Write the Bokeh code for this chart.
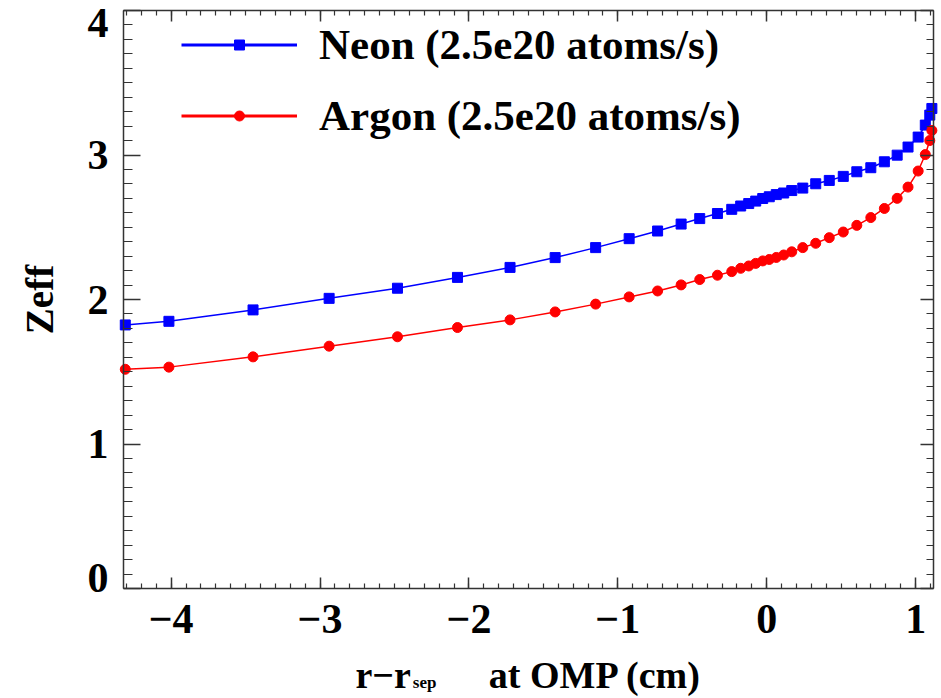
import numpy as np
from bokeh.plotting import figure
from bokeh.models import (Range1d, LinearAxis, FixedTicker, CustomJSTickFormatter,
                          Label, Legend, LegendItem)
from bokeh.embed import file_html
from bokeh.resources import INLINE

# r - r_sep at the outer midplane (cm), common grid of both runs
r_omp = [-4.308, -4.015, -3.450, -2.939, -2.480, -2.077, -1.724, -1.421, -1.149, -0.924,
         -0.733, -0.575, -0.450, -0.331, -0.235, -0.175, -0.121, -0.074, -0.027, 0.017,
         0.064, 0.114, 0.168, 0.242, 0.329, 0.420, 0.514, 0.605, 0.699, 0.790,
         0.876, 0.949, 1.017, 1.065, 1.095, 1.109]

# effective charge profiles for the two seeding species
zeff_neon = [1.824, 1.849, 1.928, 2.008, 2.078, 2.153, 2.222, 2.290, 2.359, 2.421,
             2.474, 2.522, 2.560, 2.595, 2.624, 2.647, 2.664, 2.681, 2.699, 2.711,
             2.726, 2.737, 2.754, 2.771, 2.801, 2.824, 2.852, 2.884, 2.912, 2.953,
             2.999, 3.055, 3.124, 3.207, 3.276, 3.322]
zeff_argon = [1.517, 1.532, 1.603, 1.677, 1.742, 1.806, 1.859, 1.914, 1.968, 2.018,
              2.059, 2.101, 2.138, 2.168, 2.193, 2.216, 2.232, 2.250, 2.267, 2.277,
              2.291, 2.308, 2.330, 2.359, 2.389, 2.428, 2.467, 2.513, 2.567, 2.630,
              2.700, 2.778, 2.889, 3.003, 3.100, 3.170]

series_names = ["Neon (2.5e20 atoms/s)", "Argon (2.5e20 atoms/s)"]

x_ticks = [-4, -3, -2, -1, 0, 1]
y_ticks = [0, 1, 2, 3, 4]
x_label_parts = ["r\u2212r", "sep", "at OMP (cm)"]
y_label = "Zeff"

FONT = "Liberation Serif"
AXIS_COLOR = "#333333"
BLUE = "#0000ff"
RED = "#ff0000"

# axis extents of the boxed plot area
X_START, X_END = -4.32, 1.12
Y_START, Y_END = 0, 4

# canvas size and the pixel box the axes enclose; the frame fills the whole canvas
W, H = 941, 698
BOX_L, BOX_R, BOX_T, BOX_B = 123, 933, 10, 588
SX = (BOX_R - BOX_L) / (X_END - X_START)
SY = (BOX_B - BOX_T) / (Y_END - Y_START)

p = figure(width=W, height=H, output_backend="svg", toolbar_location=None,
           x_range=Range1d(X_START - BOX_L / SX, X_END + (W - BOX_R) / SX),
           y_range=Range1d(Y_START - (H - BOX_B) / SY, Y_END + BOX_T / SY),
           x_axis_location=None, y_axis_location=None,
           min_border=0, min_border_left=0, min_border_right=0,
           min_border_top=0, min_border_bottom=0,
           background_fill_color="white", border_fill_color="white")
p.grid.visible = False
p.outline_line_color = None

x_minor = [float(v) for v in np.round(np.arange(-4.3, 1.15, 0.1), 2)]
y_minor = [float(v) for v in np.round(np.arange(0.0, 4.01, 0.1), 2)]


def make_axis(side, loc, ticks, minor, bounds, major_len, minor_len, show_labels):
    ax = LinearAxis(fixed_location=loc, bounds=bounds)
    ax.ticker = FixedTicker(ticks=ticks, minor_ticks=minor)
    ax.major_tick_in = major_len
    ax.major_tick_out = 0
    ax.minor_tick_in = minor_len
    ax.minor_tick_out = 0
    ax.axis_line_color = AXIS_COLOR
    ax.axis_line_width = 1.5
    ax.major_tick_line_color = AXIS_COLOR
    ax.major_tick_line_width = 1.5
    ax.minor_tick_line_color = AXIS_COLOR
    ax.minor_tick_line_width = 1.2
    ax.major_label_text_font = FONT
    ax.major_label_text_font_style = "bold"
    ax.major_label_text_font_size = "42px"
    ax.major_label_text_color = "black"
    if not show_labels:
        ax.formatter = CustomJSTickFormatter(code="return '';")
        ax.major_label_text_font_size = "0px"
        ax.major_label_standoff = 0
    p.add_layout(ax, side)
    return ax


# bottom axis with long minus signs
xb = make_axis("below", Y_START, x_ticks, x_minor, (X_START, X_END), 11, 5, True)
xb.formatter = CustomJSTickFormatter(
    code="return tick < 0 ? '\u2212' + Math.abs(tick).toFixed(0) : tick.toFixed(0);")
xb.major_label_standoff = 16

# left axis; its end labels are drawn separately, pulled inside the box span
yl = make_axis("left", X_START, y_ticks, y_minor, (Y_START, Y_END), 17, 9, True)
yl.formatter = CustomJSTickFormatter(
    code="return (tick <= 0 || tick >= 4) ? '' : tick.toFixed(0);")
yl.major_label_standoff = 15
yl.axis_label = y_label
yl.axis_label_text_font = FONT
yl.axis_label_text_font_style = "bold"
yl.axis_label_text_font_size = "39px"
yl.axis_label_text_color = "black"
yl.axis_label_standoff = 24

# mirrored axes closing the box
make_axis("above", Y_END, x_ticks, x_minor, (X_START, X_END), 11, 5, False)
make_axis("right", X_END, y_ticks, y_minor, (Y_START, Y_END), 13, 7, False)

text_style = dict(text_font=FONT, text_font_style="bold", text_color="black")

for val, dy in ((y_ticks[-1], -12), (y_ticks[0], 11)):
    p.add_layout(Label(x=X_START, y=val, x_offset=-15, y_offset=dy, text=str(val),
                       text_align="right", text_baseline="middle",
                       text_font_size="42px", **text_style))

# x axis title with a subscript
XT_X = -2.39
p.add_layout(Label(x=XT_X, y=Y_START, y_offset=-86, text=x_label_parts[0],
                   text_align="right", text_baseline="alphabetic",
                   text_font_size="38px", **text_style))
p.add_layout(Label(x=XT_X, y=Y_START, x_offset=2, y_offset=-94, text=x_label_parts[1],
                   text_align="left", text_baseline="alphabetic",
                   text_font_size="17px", **text_style))
p.add_layout(Label(x=XT_X, y=Y_START, x_offset=78, y_offset=-86, text=x_label_parts[2],
                   text_align="left", text_baseline="alphabetic",
                   text_font_size="38px", **text_style))

# data curves
p.line(r_omp, zeff_neon, line_color=BLUE, line_width=1.5)
p.scatter(r_omp, zeff_neon, marker="square", size=10, fill_color=BLUE, line_color=BLUE)
p.line(r_omp, zeff_argon, line_color=RED, line_width=1.5)
p.scatter(r_omp, zeff_argon, marker="circle", size=10, fill_color=RED, line_color=RED)

# legend samples with heavier lines (a single undefined point keeps them off the axes)
blank = [float("nan")]
ln_ne = p.line(blank, blank, line_color=BLUE, line_width=3)
mk_ne = p.scatter(blank, blank, marker="square", size=10, fill_color=BLUE, line_color=BLUE)
ln_ar = p.line(blank, blank, line_color=RED, line_width=3)
mk_ar = p.scatter(blank, blank, marker="circle", size=9, fill_color=RED, line_color=RED)

legend = Legend(items=[LegendItem(label=series_names[0], renderers=[ln_ne, mk_ne]),
                       LegendItem(label=series_names[1], renderers=[ln_ar, mk_ar])],
                location=(BOX_L + 58, H - 140), orientation="vertical",
                glyph_width=116, glyph_height=25, label_height=47, spacing=22,
                label_standoff=22, padding=0, margin=0,
                label_text_font=FONT, label_text_font_style="bold",
                label_text_font_size="43px", label_text_color="black",
                border_line_alpha=0, background_fill_alpha=0)
p.add_layout(legend, "center")

open("out.html", "w").write(file_html(p, INLINE))
